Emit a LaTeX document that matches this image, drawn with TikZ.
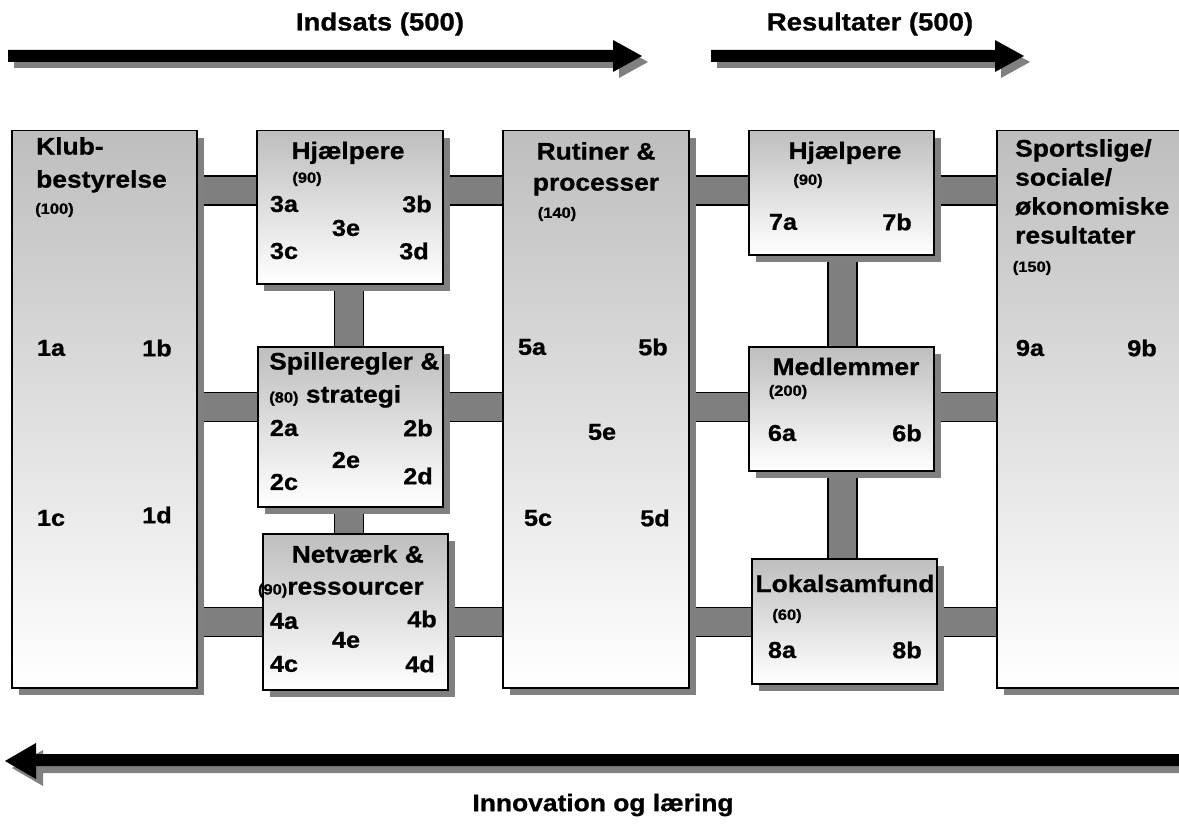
\documentclass[tikz,border=0pt]{standalone}
\usepackage{fontspec}
\setmainfont[FakeStretch=1.1, BoldFeatures={FakeBold=0.8}]{Liberation Sans}
\usetikzlibrary{shadows,backgrounds}
\definecolor{boxgray}{HTML}{BEBEBE}
\definecolor{shadowgray}{HTML}{808080}
\definecolor{bargray}{HTML}{7F7F7F}
\tikzset{
  box/.style={draw=black, line width=1.5pt, top color=boxgray, bottom color=white,
    anchor=north west, inner sep=0pt,
    drop shadow={shadow xshift=7pt, shadow yshift=-7pt, fill=shadowgray, opacity=1}},
  head/.style={font=\bfseries\fontsize{24}{31}\selectfont, inner sep=0pt},
  amount/.style={font=\bfseries\fontsize{15}{17}\selectfont, inner sep=0pt},
  item/.style={font=\bfseries\fontsize{23}{26}\selectfont, inner sep=0pt},
  banner/.style={font=\bfseries\fontsize{25}{30}\selectfont, inner sep=0pt},
  bar/.style={draw=black, line width=1.7pt, double=bargray, double distance=27.5pt}
}
\newcommand{\amtfont}{\fontsize{15}{17}\selectfont}
\begin{document}
\begin{tikzpicture}[x=1pt,y=-1pt]
\useasboundingbox (0,0) rectangle (1179,824);

% thick arrows
\foreach \d/\c in {6/shadowgray,0/black}{
  \fill[\c, shift={(\d,\d)}] (8,50) -- (613,50) -- (613,40) -- (642,56) -- (613,72) -- (613,62) -- (8,62) -- cycle;
  \fill[\c, shift={(\d,\d)}] (711,50) -- (995,50) -- (995,40) -- (1024,56) -- (995,72) -- (995,62) -- (711,62) -- cycle;
}
\foreach \d/\c in {7/shadowgray,0/black}
  \fill[\c, shift={(\d,\d)}] (1179,754) -- (36,754) -- (36,743) -- (5,761) -- (36,779) -- (36,766) -- (1179,766) -- cycle;
\node[banner] (indsats) at (380,24) {Indsats (500)};
\node[banner] (resultater) at (870,24) {Resultater (500)};
\node[banner, font=\bfseries\fontsize{24}{30}\selectfont] (innovation) at (603,805) {Innovation og læring};

% boxes
\node[box, minimum width=185pt, minimum height=557pt] (klub) at (11,130) {};
\node[box, minimum width=186pt, minimum height=153pt] (hj3) at (256,130) {};
\node[box, minimum width=185pt, minimum height=160pt] (spil) at (257,346) {};
\node[box, minimum width=185pt, minimum height=156pt] (net) at (262,533) {};
\node[box, minimum width=186pt, minimum height=557pt] (rut) at (502,130) {};
\node[box, minimum width=185pt, minimum height=124pt] (hj7) at (748,130) {};
\node[box, minimum width=185pt, minimum height=124pt] (med) at (748,346) {};
\node[box, minimum width=185pt, minimum height=125pt] (lok) at (751,558) {};
\node[box, minimum width=200pt, minimum height=557pt] (sport) at (996,130) {};

% titles
\node[head, align=left, anchor=north west, font=\bfseries\fontsize{24}{33}\selectfont] (klubtxt) at (36,137) {Klub-\\bestyrelse};
\node[head, anchor=base] (hj3txt) at (348,159) {Hjælpere};
\node[head, align=left, anchor=north west, font=\bfseries\fontsize{24}{33}\selectfont] (spiltxt) at (269,352) {Spilleregler \&\\{\amtfont(80)} strategi};
\node[head, align=right, anchor=north east, font=\bfseries\fontsize{24}{32}\selectfont] (nettxt) at (424,545) {Netværk \&\\{\amtfont(90)}ressourcer};
\node[head, align=center, anchor=north] (ruttxt) at (596,142) {Rutiner \&\\processer};
\node[head, anchor=base] (hj7txt) at (845,159) {Hjælpere};
\node[head, anchor=base] (medtxt) at (846,375) {Medlemmer};
\node[head, anchor=base] (loktxt) at (845,592) {Lokalsamfund};
\node[head, align=left, anchor=north west, font=\bfseries\fontsize{24}{29}\selectfont] (sporttxt) at (1015,139) {Sportslige/\\sociale/\\økonomiske\\resultater};

% amounts
\node[amount, anchor=west] (klubamt) at (35,210) {(100)};
\node[amount] (hj3amt) at (307,179) {(90)};
\node[amount] (rutamt) at (557,214) {(140)};
\node[amount] (hj7amt) at (808,181) {(90)};
\node[amount] (medamt) at (788,392) {(200)};
\node[amount] (lokamt) at (787,616) {(60)};
\node[amount] (sportamt) at (1032,268) {(150)};

% items
\foreach \t/\x/\y in {1a/51/348, 1b/157/348, 1c/51/518, 1d/157/515,
  3a/284/204, 3b/417/204, 3e/346/228, 3c/284/251, 3d/414/251,
  2a/284/428, 2b/418/428, 2e/346/460, 2c/284/482, 2d/418/476,
  4a/284/621, 4b/422/619, 4e/346/640, 4c/284/664, 4d/420/664,
  5a/532/347, 5b/653/347, 5e/602/432, 5c/538/518, 5d/655/518,
  7a/783/222, 7b/897/222, 6a/782/433, 6b/907/433,
  8a/782/650, 8b/907/650, 9a/1030/348, 9b/1142/348}
  \node[item] (l\t) at (\x,\y) {\t};

% connecting bars
\coordinate (row1) at (0,190.5);
\coordinate (row2) at (0,407);
\coordinate (row3) at (0,622);
\coordinate (col1) at (349,0);
\coordinate (col2) at (842.5,0);
\begin{pgfonlayer}{background}
\fill[white] (0,0) rectangle (1179,824);
\draw[bar] (klub.east |- row1) -- (hj3.west |- row1);
\draw[bar] (hj3.east |- row1) -- (rut.west |- row1);
\draw[bar] (rut.east |- row1) -- (hj7.west |- row1);
\draw[bar] (hj7.east |- row1) -- (sport.west |- row1);
\draw[bar] (klub.east |- row2) -- (spil.west |- row2);
\draw[bar] (spil.east |- row2) -- (rut.west |- row2);
\draw[bar] (rut.east |- row2) -- (med.west |- row2);
\draw[bar] (med.east |- row2) -- (sport.west |- row2);
\draw[bar] (klub.east |- row3) -- (net.west |- row3);
\draw[bar] (net.east |- row3) -- (rut.west |- row3);
\draw[bar] (rut.east |- row3) -- (lok.west |- row3);
\draw[bar] (lok.east |- row3) -- (sport.west |- row3);
\draw[bar] (hj3.south -| col1) -- (spil.north -| col1);
\draw[bar] (spil.south -| col1) -- (net.north -| col1);
\draw[bar] (hj7.south -| col2) -- (med.north -| col2);
\draw[bar] (med.south -| col2) -- (lok.north -| col2);
\end{pgfonlayer}
\end{tikzpicture}
\end{document}
